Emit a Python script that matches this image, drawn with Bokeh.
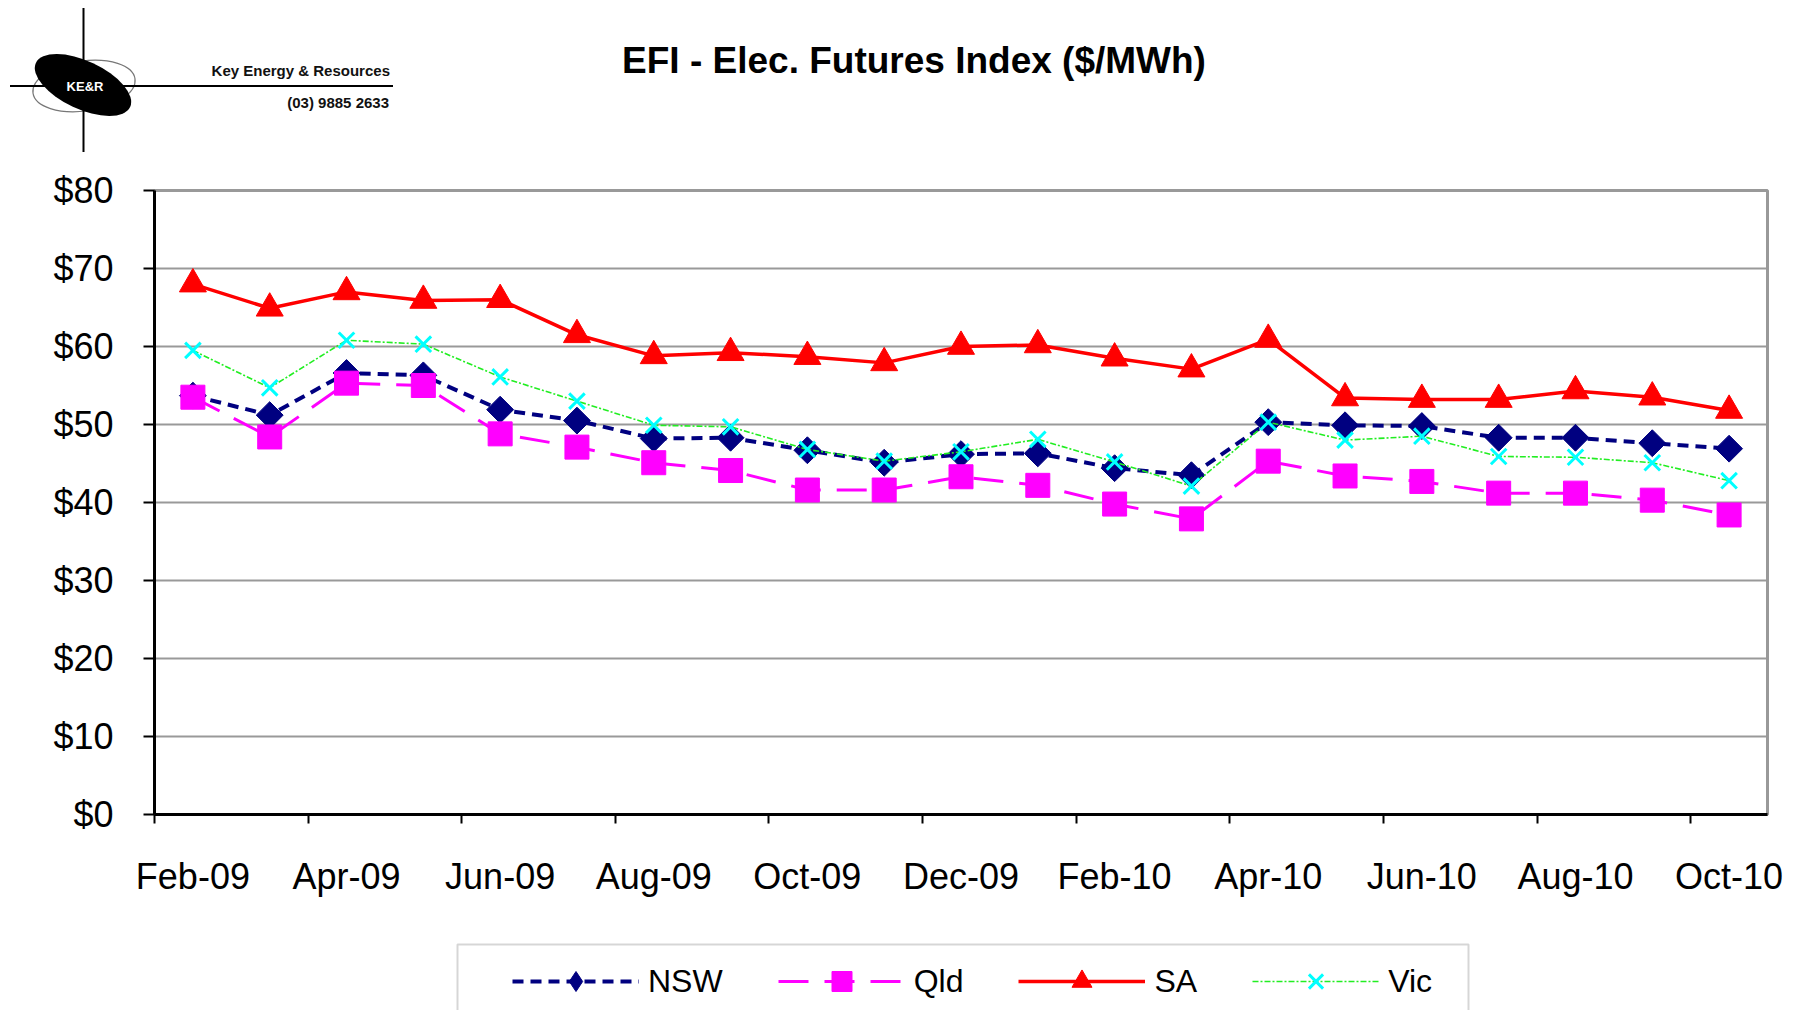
import numpy as np
from bokeh.plotting import figure
from bokeh.models import (Range1d, FixedTicker, NumeralTickFormatter, CustomJSTickFormatter,
                          Legend, LegendItem, ColumnDataSource, Div, BoxAnnotation)
from bokeh.layouts import column
from bokeh.embed import file_html
from bokeh.resources import INLINE

# ---------------- data ----------------
months = ["Feb-09", "Mar-09", "Apr-09", "May-09", "Jun-09", "Jul-09", "Aug-09", "Sep-09",
          "Oct-09", "Nov-09", "Dec-09", "Jan-10", "Feb-10", "Mar-10", "Apr-10", "May-10",
          "Jun-10", "Jul-10", "Aug-10", "Sep-10", "Oct-10"]
nsw = [53.7, 51.2, 56.6, 56.3, 51.9, 50.5, 48.2, 48.3, 46.7, 45.1, 46.2, 46.3, 44.4, 43.5,
       50.3, 49.9, 49.8, 48.3, 48.3, 47.6, 46.9]
qld = [53.5, 48.4, 55.3, 55.0, 48.8, 47.1, 45.1, 44.1, 41.6, 41.6, 43.3, 42.2, 39.8, 37.9,
       45.3, 43.4, 42.7, 41.2, 41.2, 40.3, 38.4]
sa = [68.0, 64.9, 67.0, 65.9, 66.0, 61.5, 58.8, 59.2, 58.7, 57.9, 60.0, 60.2, 58.5, 57.1,
      60.9, 53.4, 53.2, 53.2, 54.3, 53.5, 51.8]
vic = [59.5, 54.7, 60.8, 60.3, 56.1, 53.0, 49.9, 49.7, 46.8, 45.3, 46.5, 48.1, 45.2, 42.1,
       50.3, 48.0, 48.5, 45.9, 45.8, 45.1, 42.8]
y_ticks = [0, 10, 20, 30, 40, 50, 60, 70, 80]
series_names = ["NSW", "Qld", "SA", "Vic"]

title_text = "EFI - Elec. Futures Index ($/MWh)"
logo_name = "Key Energy &amp; Resources"
logo_phone = "(03) 9885 2633"
logo_mark = "KE&amp;R"

FONT = "Liberation Sans"
W = 1800
HEAD_H = 160
MAIN_H = 754
FOOT_H = 96
FRAME_L, FRAME_R = 154, 1767

# series styles (shared by the chart and its legend)
NSW_LINE = dict(line_color="#000080", line_width=4, line_dash="11 7")
QLD_LINE = dict(line_color="#FF00FF", line_width=3, line_dash="30 16")
SA_LINE = dict(line_color="#FF0000", line_width=3.5)
VIC_LINE = dict(line_color="#22EE22", line_width=1.6, line_dash="6 2 2 2")

# ---------------- header (logo + title) ----------------
header_svg = f'''<svg xmlns="http://www.w3.org/2000/svg" width="{W}" height="{HEAD_H}" style="display:block">
<ellipse cx="84" cy="86" rx="51.5" ry="25" transform="rotate(-8 84 86)" fill="none" stroke="#777777" stroke-width="1.2"/>
<ellipse cx="83" cy="85" rx="52" ry="24" transform="rotate(25 83 85)" fill="black"/>
<line x1="83.5" y1="8" x2="83.5" y2="152" stroke="black" stroke-width="2"/>
<line x1="10" y1="86" x2="393" y2="86" stroke="black" stroke-width="2"/>
<text x="85" y="86" text-anchor="middle" dominant-baseline="central" font-family="{FONT}" font-weight="bold" font-size="13" fill="white">{logo_mark}</text>
<text x="390" y="70" text-anchor="end" dominant-baseline="central" font-family="{FONT}" font-weight="bold" font-size="15" fill="#111111">{logo_name}</text>
<text x="389" y="102" text-anchor="end" dominant-baseline="central" font-family="{FONT}" font-weight="bold" font-size="15" fill="#111111">{logo_phone}</text>
<text x="914" y="60" text-anchor="middle" dominant-baseline="central" font-family="{FONT}" font-weight="bold" font-size="37" fill="black">{title_text}</text>
</svg>'''
head = Div(text=header_svg, width=W, height=HEAD_H, margin=(0, 0, 0, 0), disable_math=True)

# ---------------- main chart ----------------
n = len(months)
p = figure(width=W, height=MAIN_H, x_range=Range1d(-0.5, n - 0.5), y_range=Range1d(y_ticks[0], y_ticks[-1]),
           toolbar_location=None, output_backend="svg",
           min_border_left=FRAME_L, min_border_right=W - FRAME_R, min_border_top=30, min_border_bottom=100)
p.outline_line_color = "#999999"
p.outline_line_width = 3
p.background_fill_color = "white"
p.border_fill_color = "white"

# x axis: labels every second month, tick marks between categories
p.xaxis.ticker = FixedTicker(ticks=list(range(0, n, 2)),
                             minor_ticks=[i - 0.5 for i in range(0, n, 2)])
p.xaxis.formatter = CustomJSTickFormatter(args=dict(labels=months),
                                          code="const i = Math.round(tick); return (labels[i] !== undefined) ? labels[i] : '';")
p.xaxis.axis_line_color = "black"
p.xaxis.axis_line_width = 3
p.xaxis.major_tick_line_color = None
p.xaxis.major_tick_out = 9
p.xaxis.major_tick_in = 0
p.xaxis.minor_tick_line_color = "black"
p.xaxis.minor_tick_line_width = 2
p.xaxis.minor_tick_out = 9
p.xaxis.minor_tick_in = 0
p.xaxis.major_label_standoff = 32
p.xaxis.major_label_text_font = FONT
p.xaxis.major_label_text_font_size = "36px"
p.xaxis.major_label_text_color = "black"

# y axis
p.yaxis.ticker = FixedTicker(ticks=y_ticks)
p.yaxis.formatter = NumeralTickFormatter(format="$0")
p.yaxis.axis_line_color = "black"
p.yaxis.axis_line_width = 3
p.yaxis.major_tick_line_color = "black"
p.yaxis.major_tick_line_width = 2
p.yaxis.major_tick_out = 11
p.yaxis.major_tick_in = 0
p.yaxis.minor_tick_line_color = None
p.yaxis.major_label_standoff = 30
p.yaxis.major_label_text_font = FONT
p.yaxis.major_label_text_font_size = "36px"
p.yaxis.major_label_text_color = "black"

p.xgrid.visible = False
p.ygrid.grid_line_color = "#999999"
p.ygrid.grid_line_width = 2

src = ColumnDataSource(dict(x=list(range(n)), nsw=nsw, qld=qld, sa=sa, vic=vic))

p.line("x", "nsw", source=src, **NSW_LINE)
p.scatter("x", "nsw", source=src, marker="square", angle=np.pi / 4, size=19,
          fill_color="#000080", line_color="#000080")
p.line("x", "qld", source=src, **QLD_LINE)
p.scatter("x", "qld", source=src, marker="square", size=24,
          fill_color="#FF00FF", line_color="#FF00FF")
p.line("x", "sa", source=src, **SA_LINE)
p.scatter("x", "sa", source=src, marker="triangle", size=27,
          fill_color="#FF0000", line_color="#FF0000")
p.line("x", "vic", source=src, **VIC_LINE)
p.scatter("x", "vic", source=src, marker="x", size=22,
          line_color="#00FFFF", line_width=3)

# ---------------- legend strip (below the chart, cut by the page edge like the reference) ----------------
PAGE_TOP_FOOT = HEAD_H + MAIN_H
f = figure(width=W, height=FOOT_H, x_range=Range1d(FRAME_L, FRAME_R),
           y_range=Range1d(PAGE_TOP_FOOT + FOOT_H, PAGE_TOP_FOOT),
           x_axis_location=None, y_axis_location=None, toolbar_location=None,
           output_backend="svg", min_border_left=FRAME_L, min_border_right=W - FRAME_R,
           min_border_top=0, min_border_bottom=0, outline_line_color=None)
f.grid.visible = False
f.background_fill_color = "white"
f.border_fill_color = "white"

# style carriers for the legend samples (a single NaN point: nothing is drawn)
key_src = ColumnDataSource(dict(x=[np.nan], y=[np.nan]))
k_nsw = [f.line("x", "y", source=key_src, **NSW_LINE),
         f.scatter("x", "y", source=key_src, marker="diamond", size=20,
                   fill_color="#000080", line_color="#000080")]
k_qld = [f.line("x", "y", source=key_src, **QLD_LINE),
         f.scatter("x", "y", source=key_src, marker="square", size=20,
                   fill_color="#FF00FF", line_color="#FF00FF")]
k_sa = [f.line("x", "y", source=key_src, **SA_LINE),
        f.scatter("x", "y", source=key_src, marker="triangle", size=20,
                  fill_color="#FF0000", line_color="#FF0000")]
k_vic = [f.line("x", "y", source=key_src, **VIC_LINE),
         f.scatter("x", "y", source=key_src, marker="x", size=20,
                   line_color="#00FFFF", line_width=3)]

f.add_layout(BoxAnnotation(left=457, right=1468, top=944, bottom=1060,
                           fill_color=None, fill_alpha=0, line_color="#777777", line_width=2))

LEG_PAD = 10
LEG_ITEM_H = 50
LEG_FIRST_X = 522
LEG_MID_Y = 971
legend = Legend(items=[
    LegendItem(label=series_names[0], renderers=k_nsw),
    LegendItem(label=series_names[1], renderers=k_qld),
    LegendItem(label=series_names[2], renderers=k_sa),
    LegendItem(label=series_names[3], renderers=k_vic),
], orientation="horizontal",
    location=(LEG_FIRST_X - LEG_PAD - FRAME_L,
              (PAGE_TOP_FOOT + FOOT_H) - (LEG_MID_Y + LEG_PAD + LEG_ITEM_H // 2)),
    padding=LEG_PAD, spacing=55,
    glyph_width=127, glyph_height=LEG_ITEM_H, label_height=LEG_ITEM_H, label_standoff=9,
    label_text_font=FONT, label_text_font_size="32px", label_text_color="black",
    border_line_color=None, background_fill_alpha=0, margin=0)
f.add_layout(legend)

layout = column(head, p, f, spacing=0)
open("out.html", "w").write(file_html(layout, INLINE))
